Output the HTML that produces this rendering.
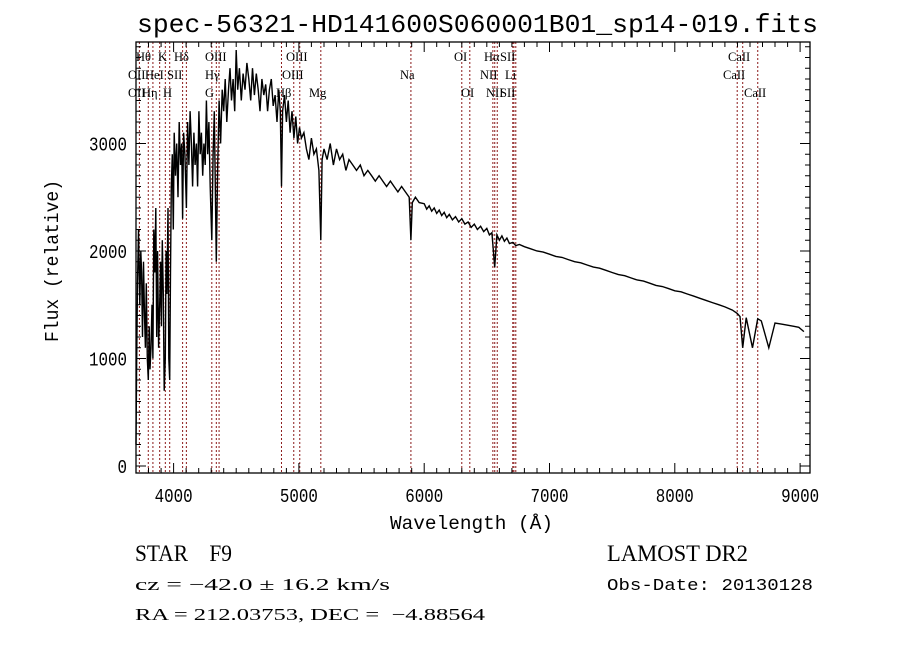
<!DOCTYPE html>
<html><head><meta charset="utf-8">
<style>
html,body{margin:0;padding:0;background:#fff;}
svg{display:block;}
text{font-family:"Liberation Mono",monospace;fill:#000;white-space:pre;}
.lbl{font-family:"Liberation Serif",serif;font-size:12.5px;}
</style></head>
<body>
<svg id="chart" width="900" height="649" viewBox="0 0 900 649" xmlns="http://www.w3.org/2000/svg" xml:space="preserve">
<text x="137" y="32" font-size="26" textLength="681" lengthAdjust="spacingAndGlyphs">spec-56321-HD141600S060001B01_sp14-019.fits</text>
<g id="lines"></g>
<g id="spec"></g>
<g id="axes"></g>
<text x="390" y="529" font-size="19" textLength="163" lengthAdjust="spacingAndGlyphs">Wavelength (Å)</text>
<text transform="translate(58,342) rotate(-90)" font-size="19" textLength="162" lengthAdjust="spacingAndGlyphs">Flux (relative)</text>
<text x="135" y="561" font-size="23" textLength="97" lengthAdjust="spacingAndGlyphs" style="font-family:'Liberation Serif',serif">STAR    F9</text>
<text x="135" y="590" font-size="17" textLength="255" lengthAdjust="spacingAndGlyphs" style="font-family:'Liberation Serif',serif">cz = −42.0 ± 16.2 km/s</text>
<text x="135" y="620" font-size="17" textLength="350" lengthAdjust="spacingAndGlyphs" style="font-family:'Liberation Serif',serif">RA = 212.03753, DEC =  −4.88564</text>
<text x="607" y="561" font-size="23" textLength="141" lengthAdjust="spacingAndGlyphs" style="font-family:'Liberation Serif',serif">LAMOST DR2</text>
<text x="607" y="590" font-size="17" textLength="206" lengthAdjust="spacingAndGlyphs">Obs-Date: 20130128</text>
</svg>
<script>
const wave = [3700,3705,3712,3720,3730,3738,3745,3752,3760,3768,3775,3782,3790,3798,3805,3812,3820,3828,3835,3842,3850,3858,3865,3872,3880,3889,3896,3903,3910,3918,3925,3934,3940,3947,3955,3962,3969,3975,3982,3990,3998,4005,4015,4025,4035,4045,4055,4065,4072,4080,4090,4102,4112,4122,4132,4142,4152,4162,4172,4182,4192,4202,4212,4222,4232,4242,4252,4262,4272,4282,4292,4305,4315,4325,4341,4352,4363,4375,4388,4400,4412,4425,4438,4450,4462,4475,4488,4500,4512,4525,4540,4555,4570,4585,4600,4615,4630,4645,4660,4675,4690,4705,4720,4735,4750,4765,4780,4795,4810,4825,4840,4852,4861,4870,4885,4900,4915,4930,4945,4960,4975,4990,5005,5020,5040,5060,5080,5100,5120,5140,5160,5175,5185,5200,5225,5250,5275,5300,5325,5350,5375,5400,5430,5460,5490,5520,5550,5580,5610,5640,5670,5700,5730,5760,5790,5820,5850,5880,5894,5905,5930,5960,6000,6020,6040,6060,6080,6100,6120,6140,6160,6180,6200,6225,6250,6275,6300,6325,6350,6375,6400,6425,6450,6475,6500,6520,6540,6563,6580,6600,6620,6640,6660,6680,6707,6731,6760,6800,6850,6900,6950,7000,7050,7100,7150,7200,7250,7300,7350,7400,7450,7500,7550,7600,7650,7700,7750,7800,7850,7900,7950,8000,8050,8100,8150,8200,8250,8300,8350,8400,8460,8498,8520,8542,8570,8620,8662,8690,8750,8800,8850,8900,8950,8990,9010,9030];
const flux = [200,900,1700,2200,1500,2000,1800,1200,1900,1400,1100,1700,1000,800,1300,900,1100,1500,1000,2200,1800,2400,1200,2000,1100,1500,1900,1300,2100,1600,700,1000,2000,1600,2400,1000,800,1800,2600,2900,2200,3100,2700,3000,2500,3200,2800,3000,2300,3100,2900,2400,3200,2800,3300,3000,2600,3100,2800,3000,2600,3300,2900,3100,2700,3000,2800,3400,2900,3200,2600,2100,2900,3300,1900,2800,3400,3000,3500,3300,3600,3200,3500,3700,3400,3600,3300,3870,3500,3700,3400,3650,3500,3750,3600,3400,3700,3450,3650,3500,3300,3600,3450,3550,3300,3500,3600,3350,3450,3200,3500,3300,2600,3300,3450,3200,3400,3100,3300,3050,3250,3000,3150,3050,3100,2950,2850,3050,2900,2950,2750,2100,2850,2950,2850,3000,2800,2950,2850,2900,2750,2850,2800,2750,2800,2700,2750,2700,2650,2700,2650,2600,2650,2600,2550,2600,2550,2500,2100,2450,2500,2450,2440,2390,2420,2370,2400,2350,2380,2330,2360,2310,2340,2290,2320,2270,2300,2250,2270,2220,2250,2200,2230,2180,2210,2150,2170,1850,2150,2100,2140,2090,2120,2070,2080,2050,2060,2040,2020,2000,1990,1970,1950,1940,1920,1900,1890,1870,1850,1840,1820,1800,1780,1770,1750,1730,1720,1700,1680,1670,1650,1630,1620,1600,1580,1560,1540,1520,1500,1480,1450,1420,1390,1100,1380,1100,1370,1350,1100,1330,1320,1310,1300,1290,1270,1250,1230,1000,700];
const lineWaves = [3727,3798,3835,3889,3934,3969,4072,4102,4305,4341,4363,4861,4959,5007,5175,5894,6300,6364,6548,6563,6583,6707,6716,6731,8498,8542,8662];
const lineLabels = ["Hθ","K","Hδ","OIII","OIII","OI","Hα","SII","CaII","OII","HeI","SII","Hγ","OIII","Na","NII","Li","CaII","OII","Hη","H","G","Hβ","Mg","OI","NII","SII","CaII"];
const labelX = [136,158,174,205,286,454,484,500,728,128,145,167,205,282,400,480,505,723,128,142,163,205,276,309,461,486,500,744];
const labelRow = [0,0,0,0,0,0,0,0,0,1,1,1,1,1,1,1,1,1,2,2,2,2,2,2,2,2,2,2];
const xTicks = [4000,5000,6000,7000,8000,9000];
const yTicks = [0,1000,2000,3000];

const X0=136,X1=810,Y0=42,Y1=473;
const WMIN=3700,WMAX=9079,FMIN=-65,FMAX=3944;
const sx=w=>X0+(w-WMIN)/(WMAX-WMIN)*(X1-X0);
const sy=f=>Y1-(f-FMIN)/(FMAX-FMIN)*(Y1-Y0);
const NS="http://www.w3.org/2000/svg";
function mk(tag,parent){const e=document.createElementNS(NS,tag);parent.appendChild(e);return e;}

const gl=document.getElementById('lines');
lineWaves.forEach(w=>{
  const l=mk('line',gl);
  
  
  l.setAttribute('x1',sx(w));l.setAttribute('x2',sx(w));
  l.setAttribute('y1',Y0);l.setAttribute('y2',Y1);
  l.setAttribute('stroke','#8b1a1a');l.setAttribute('stroke-width','1');
  l.setAttribute('stroke-dasharray','2,2');
});
lineLabels.forEach((t,i)=>{
  const tx=mk('text',gl);
  
  
  tx.setAttribute('class','lbl');
  tx.setAttribute('x',labelX[i]);tx.setAttribute('y',61+labelRow[i]*18);
  tx.textContent=t;
});

const gs=document.getElementById('spec');
const p=mk('path',gs);


p.setAttribute('d',wave.map((w,i)=>(i?'L':'M')+sx(w).toFixed(1)+','+Math.min(sy(flux[i]),Y1).toFixed(1)).join(''));
p.setAttribute('fill','none');p.setAttribute('stroke','#000');p.setAttribute('stroke-width','1.4');

const ga=document.getElementById('axes');
const fr=mk('rect',ga);


fr.setAttribute('x',X0);fr.setAttribute('y',Y0);fr.setAttribute('width',X1-X0);fr.setAttribute('height',Y1-Y0);
fr.setAttribute('fill','none');fr.setAttribute('stroke','#000');fr.setAttribute('stroke-width','1.3');
let d='';
for(let w=3700;w<=WMAX;w+=100){const x=sx(w).toFixed(1);const L=(w%1000===0)?10:5;d+=`M${x},${Y1}v${-L}M${x},${Y0}v${L}`;}
for(let f=0;f<=FMAX;f+=100){const y=sy(f).toFixed(1);const L=(f%1000===0)?10:5;d+=`M${X0},${y}h${L}M${X1},${y}h${-L}`;}
const tk=mk('path',ga);


tk.setAttribute('d',d);tk.setAttribute('stroke','#000');tk.setAttribute('stroke-width','1');
xTicks.forEach(w=>{
  const t=mk('text',ga);
  
  
  t.setAttribute('x',sx(w)-19);t.setAttribute('y',502);t.setAttribute('font-size','19');
  t.setAttribute('textLength','38');t.setAttribute('lengthAdjust','spacingAndGlyphs');
  t.textContent=w;
});
yTicks.forEach(f=>{
  const t=mk('text',ga);
  
  
  const wlen=String(f).length*9.5;
  t.setAttribute('x',127-wlen);t.setAttribute('y',sy(f)+7);t.setAttribute('font-size','19');
  t.setAttribute('textLength',wlen);t.setAttribute('lengthAdjust','spacingAndGlyphs');
  t.textContent=f;
});
</script>
</body></html>
